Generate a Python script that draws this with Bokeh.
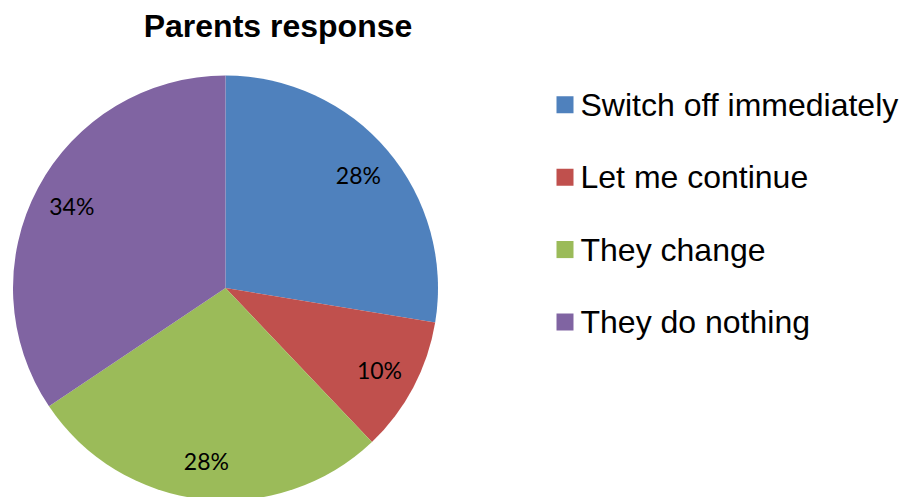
import math
from bokeh.plotting import figure
from bokeh.models import Range1d, ColumnDataSource
from bokeh.core.properties import value
from bokeh.embed import file_html
from bokeh.resources import INLINE

# ---- data ----
categories = ["Switch off immediately", "Let me continue", "They change", "They do nothing"]
shares = [27.6, 10.3, 27.7, 34.4]
colors = ["#4F81BD", "#C0504D", "#9BBB59", "#8064A2"]
title_text = "Parents response"

W, H = 904, 497
p = figure(width=W, height=H, output_backend="svg", toolbar_location=None,
           x_range=Range1d(0, W), y_range=Range1d(0, H), min_border=0,
           tools="")
p.axis.visible = False
p.grid.visible = False
p.outline_line_color = None
p.background_fill_color = "white"
p.border_fill_color = "white"

# pie geometry
cx, cy, R = 225.0, 209.5, 212.5
total = float(sum(shares))
pct_labels = ["%d%%" % round(s / total * 100) for s in shares]
starts, ends, mids = [], [], []
cum = 0.0
for s in shares:
    a0 = math.pi / 2 - cum / total * 2 * math.pi
    cum += s
    a1 = math.pi / 2 - cum / total * 2 * math.pi
    starts.append(a0)
    ends.append(a1)
    mids.append((a0 + a1) / 2)

src = ColumnDataSource(dict(start=starts, end=ends, color=colors, cat=categories))
p.wedge(x=cx, y=cy, radius=R, start_angle="start", end_angle="end",
        direction="clock", fill_color="color", line_color=None, source=src)

# percentage labels
lr = 0.82 * R
lab_x = [cx + lr * math.cos(m) for m in mids]
lab_y = [cy + lr * math.sin(m) for m in mids]
p.text(x=lab_x, y=lab_y, text=pct_labels, text_font=value("Lato"),
       text_font_size="23px", text_color="black", text_align="center",
       text_baseline="middle")

# title
p.text(x=[277.5], y=[472], text=[title_text], text_font=value("Liberation Sans"),
       text_font_size="32px", text_font_style="bold", text_color="black",
       text_align="center", text_baseline="middle")

# legend (manual)
sq_x = 564.5
row0 = 392.7
step = 72.4
sq_y = [row0 - i * step for i in range(len(categories))]
p.rect(x=[sq_x] * len(categories), y=sq_y, width=17, height=17,
       fill_color=colors, line_color=None)
p.text(x=[580] * len(categories), y=sq_y, text=categories,
       text_font=value("Liberation Sans"), text_font_size="32px",
       text_color="black", text_align="left", text_baseline="middle")

open("out.html", "w").write(file_html(p, INLINE))
